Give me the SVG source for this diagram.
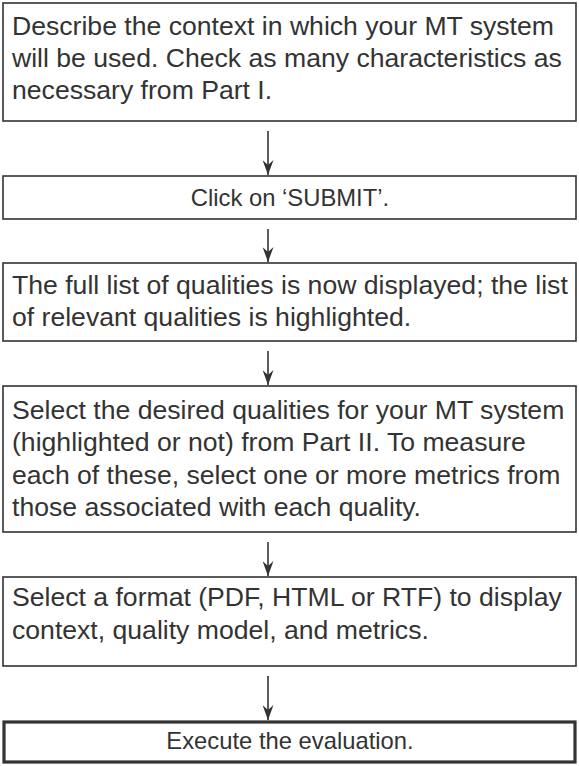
<svg xmlns="http://www.w3.org/2000/svg" width="579" height="766" viewBox="0 0 579 766">
<defs>
<marker id="ah" markerWidth="15" markerHeight="11" refX="15" refY="5.5" orient="auto" markerUnits="userSpaceOnUse" viewBox="0 0 15 11">
<path d="M0,0 L15,5.5 L0,11 L5,5.5 Z" fill="#333"/>
</marker>
</defs>
<style>
.box{fill:#fff;stroke:#333;stroke-width:1.6}
.thick{stroke-width:3.2}
.big{font-family:"Liberation Sans",Arial,sans-serif;font-size:26.6px;fill:#333}
.small{font-family:"Liberation Sans",Arial,sans-serif;font-size:23.8px;fill:#333;text-anchor:middle}
.conn{stroke:#333;stroke-width:1.6;fill:none}
</style>
<rect width="579" height="766" fill="#fff"/>
<g id="n1">
<rect class="box" x="3" y="3" width="573" height="118"/>
<text class="big" x="12" y="35">Describe the context in which your MT system</text>
<text class="big" x="12" y="67">will be used. Check as many characteristics as</text>
<text class="big" x="12" y="99">necessary from Part I.</text>
</g>
<g id="n2">
<rect class="box" x="3" y="176" width="573" height="43"/>
<text class="small" x="290" y="206">Click on ‘SUBMIT’.</text>
</g>
<g id="n3">
<rect class="box" x="3" y="263" width="573" height="78"/>
<text class="big" x="12" y="294">The full list of qualities is now displayed; the list</text>
<text class="big" x="12" y="326">of relevant qualities is highlighted.</text>
</g>
<g id="n4">
<rect class="box" x="3" y="386" width="573" height="146"/>
<text class="big" x="12" y="419">Select the desired qualities for your MT system</text>
<text class="big" x="12" y="451">(highlighted or not) from Part II. To measure</text>
<text class="big" x="12" y="484">each of these, select one or more metrics from</text>
<text class="big" x="12" y="516">those associated with each quality.</text>
</g>
<g id="n5">
<rect class="box" x="3" y="577" width="573" height="89"/>
<text class="big" x="12" y="606">Select a format (PDF, HTML or RTF) to display</text>
<text class="big" x="12" y="639">context, quality model, and metrics.</text>
</g>
<g id="n6">
<rect class="box thick" x="4" y="722" width="571" height="40"/>
<text class="small" x="290" y="749">Execute the evaluation.</text>
</g>
<g id="connectors">
<line class="conn" x1="268" y1="131" x2="268" y2="175" marker-end="url(#ah)"/>
<line class="conn" x1="268" y1="229" x2="268" y2="262" marker-end="url(#ah)"/>
<line class="conn" x1="268" y1="351" x2="268" y2="385" marker-end="url(#ah)"/>
<line class="conn" x1="268" y1="542" x2="268" y2="576" marker-end="url(#ah)"/>
<line class="conn" x1="268" y1="676" x2="268" y2="720" marker-end="url(#ah)"/>
</g>
</svg>
